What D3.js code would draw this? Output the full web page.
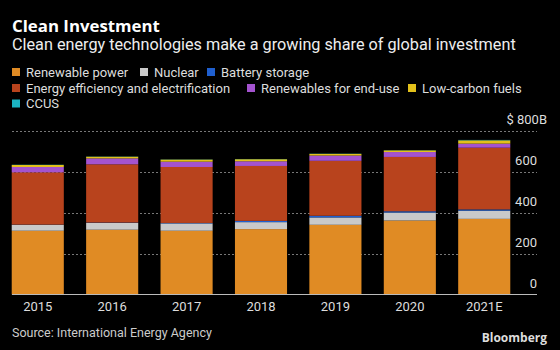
<!DOCTYPE html>
<html>
<head>
<meta charset="utf-8">
<script src="https://cdn.jsdelivr.net/npm/d3@7"></script>
<style>
  html, body { margin: 0; padding: 0; background: #000; }
  svg { display: block; }
  text { font-family: Roboto, "Noto Sans", sans-serif; fill: #e6e6e6; }
</style>
</head>
<body>
<svg id="chart" width="560" height="350"></svg>
<script>
const years = ['2015', '2016', '2017', '2018', '2019', '2020', '2021E'];
const renewablePower = [311, 316, 311, 319, 340, 361, 369];
const nuclear = [29, 33, 36, 34, 36, 39, 40];
const batteryStorage = [1, 2, 2, 6, 8, 6, 6];
const efficiency = [255, 284, 273, 268, 268, 265, 301];
const renewablesEndUse = [26, 29, 26, 23, 26, 24, 20];
const lowCarbonFuels = [10, 8, 10, 10, 8, 8, 16];
const ccus = [1, 1, 1, 1, 1, 1, 2];
const yTicks = [0, 200, 400, 600, 800];

const seriesNames = ['Renewable power', 'Nuclear', 'Battery storage',
  'Energy efficiency and electrification', 'Renewables for end-use', 'Low-carbon fuels', 'CCUS'];
const seriesValues = [renewablePower, nuclear, batteryStorage, efficiency, renewablesEndUse, lowCarbonFuels, ccus];
const colors = ['#e08b24', '#c9c9c9', '#1f5fcf', '#b8431d', '#a453cf', '#e3c11b', '#1bb3c2'];

const table = years.map((y, i) => {
  const row = { year: y };
  seriesNames.forEach((s, j) => row[s] = seriesValues[j][i]);
  return row;
});

const svg = d3.select('#chart');

function fitWidth(sel, target, base) {
  const w = sel.node().getComputedTextLength();
  if (w > 0) sel.style('font-size', (base * target / w).toFixed(2) + 'px');
}

// Titles
const title = svg.append('text').attr('x', 12).attr('y', 32)
  .style('font-family', '"Open Sans", sans-serif')
  .style('font-weight', 700).style('font-size', '15.5px').style('fill', '#fff')
  .text('Clean Investment');
fitWidth(title, 148, 15.5);
const sub = svg.append('text').attr('x', 12).attr('y', 50)
  .style('font-size', '15px').style('fill', '#eee')
  .text('Clean energy technologies make a growing share of global investment');
fitWidth(sub, 504, 15);

// Legend
const legendLayout = [
  { r: 0, x: 12 }, { r: 0, x: 140 }, { r: 0, x: 207 },
  { r: 1, x: 12 }, { r: 1, x: 247 }, { r: 1, x: 408 },
  { r: 2, x: 12 }
];
const rowY = [72, 88, 103.5];
const lg = svg.append('g');
seriesNames.forEach((s, i) => {
  const L = legendLayout[i];
  lg.append('rect').attr('x', L.x).attr('y', rowY[L.r] - 4).attr('width', 8).attr('height', 8)
    .attr('fill', colors[i]);
  lg.append('text').attr('x', L.x + 14).attr('y', rowY[L.r]).attr('dy', '0.35em')
    .style('font-size', '13px').style('fill', '#ddd').text(s);
});

// Scales
const x = d3.scaleBand().domain(years).range([8, 514]).paddingInner(0.3).paddingOuter(0.05);
const y = d3.scaleLinear().domain([0, 800]).range([294.5, 130.5]);

// Gridlines
const grid = svg.append('g');
grid.selectAll('line').data(yTicks.filter(d => d > 0)).join('line')
  .attr('x1', 12).attr('x2', 537)
  .attr('y1', d => Math.round(y(d)) + 0.5).attr('y2', d => Math.round(y(d)) + 0.5)
  .attr('stroke', '#777').attr('stroke-width', 1).attr('stroke-dasharray', '2,2');

// Bars
const stack = d3.stack().keys(seriesNames);
const stacked = stack(table);
svg.append('g').selectAll('g').data(stacked).join('g')
  .attr('fill', (d, i) => colors[i])
  .selectAll('rect').data(d => d).join('rect')
  .attr('x', d => x(d.data.year))
  .attr('width', x.bandwidth())
  .attr('y', d => y(d[1]))
  .attr('height', d => y(d[0]) - y(d[1]));

// Baseline
svg.append('line').attr('x1', 12).attr('x2', 537)
  .attr('y1', 294.5).attr('y2', 294.5).attr('stroke', '#bbb').attr('stroke-width', 1);

// Y axis labels
const yAxis = d3.axisRight(y).tickValues(yTicks).tickSize(0)
  .tickFormat(d => d === 800 ? '$ 800B' : d3.format('d')(d));
const ya = svg.append('g').attr('transform', 'translate(537,0)').call(yAxis);
ya.select('.domain').remove();
ya.selectAll('text')
  .attr('text-anchor', 'end')
  .attr('x', d => d === 800 ? 10 : 0)
  .attr('dy', '-0.55em')
  .style('font-size', '13px').style('fill', '#ddd')
  .style('font-family', 'Roboto, sans-serif');

// X axis
const xAxis = d3.axisBottom(x).tickSize(0);
const xa = svg.append('g').attr('transform', 'translate(0,294.5)').call(xAxis);
xa.select('.domain').remove();
xa.selectAll('text').attr('y', 7).attr('dy', '0.71em')
  .style('font-size', '13px').style('fill', '#ddd')
  .style('font-family', 'Roboto, sans-serif');

// Footer
svg.append('text').attr('x', 12).attr('y', 333).attr('dy', '0.35em')
  .style('font-size', '12.5px').style('fill', '#ccc')
  .text('Source: International Energy Agency');
svg.append('text').attr('x', 547).attr('y', 338).attr('dy', '0.35em')
  .attr('text-anchor', 'end')
  .style('font-family', '"Open Sans", sans-serif')
  .style('font-weight', 700).style('font-size', '12px').style('fill', '#ddd')
  .text('Bloomberg');
</script>
</body>
</html>
